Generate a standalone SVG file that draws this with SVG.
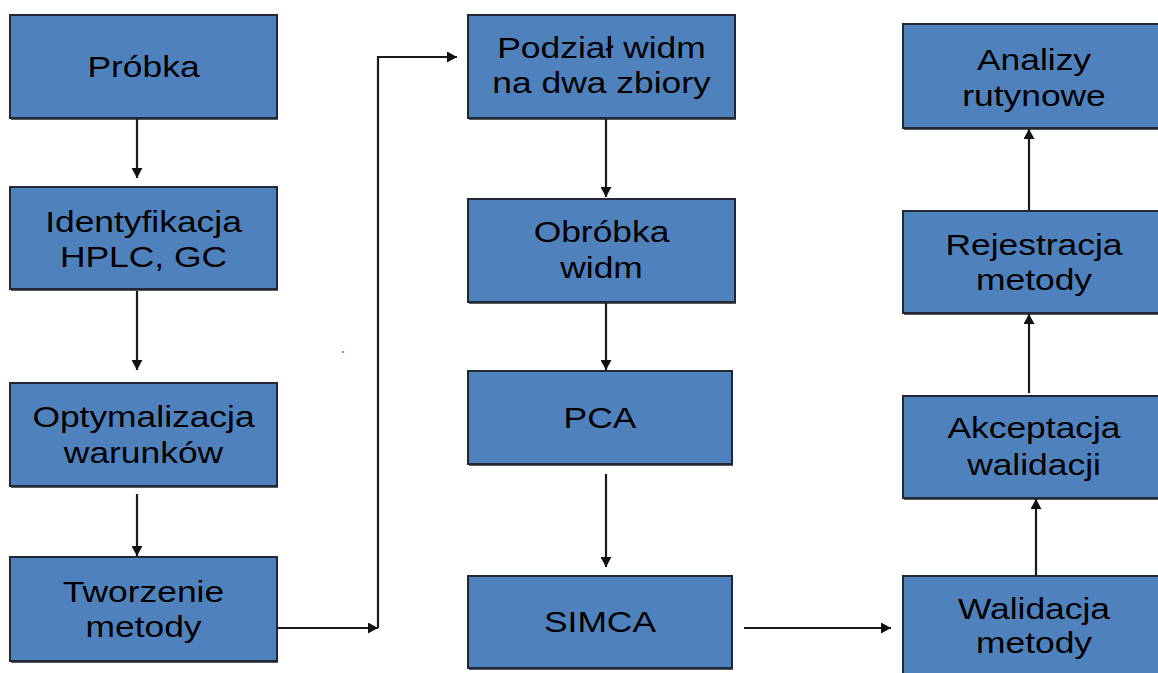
<svg xmlns="http://www.w3.org/2000/svg" width="1158" height="673" viewBox="0 0 1158 673">
<defs>
<style>
.box{fill:#4F81BD;stroke:#1E2836;stroke-width:2}
.sh{fill:#5A5A5A}
.t{font-family:"Liberation Sans",Arial,sans-serif;font-size:30px;fill:#000;text-anchor:middle}
.c{fill:none;stroke:#1A1A1A;stroke-width:2.2}
</style>
<marker id="ah" markerUnits="userSpaceOnUse" markerWidth="10" markerHeight="11" refX="10" refY="5.5" orient="auto" viewBox="0 0 10 11">
<path d="M0,0 L10,5.5 L0,11 z" fill="#111"/>
</marker>
</defs>
<rect width="1158" height="673" fill="#fff"/>
<rect x="342" y="351" width="2" height="2" fill="#6B95C8"/>

<g id="probka"><rect class="sh" x="11" y="17" width="267" height="103"/><rect class="box" x="10" y="15" width="267" height="103"/><text class="t" transform="translate(143.5,77) scale(1.18,1)">Próbka</text></g>
<g id="identyfikacja"><rect class="sh" x="11" y="189" width="267" height="102"/><rect class="box" x="10" y="187" width="267" height="102"/><text class="t" transform="translate(143.5,232) scale(1.18,1)">Identyfikacja</text><text class="t" transform="translate(143.5,267) scale(1.18,1)">HPLC, GC</text></g>
<g id="optymalizacja"><rect class="sh" x="11" y="385" width="267" height="103"/><rect class="box" x="10" y="383" width="267" height="103"/><text class="t" transform="translate(143.5,427) scale(1.18,1)">Optymalizacja</text><text class="t" transform="translate(143.5,463) scale(1.18,1)">warunków</text></g>
<g id="tworzenie"><rect class="sh" x="11" y="559" width="267" height="104"/><rect class="box" x="10" y="557" width="267" height="104"/><text class="t" transform="translate(143.5,602) scale(1.18,1)">Tworzenie</text><text class="t" transform="translate(143.5,637) scale(1.18,1)">metody</text></g>

<g id="podzial"><rect class="sh" x="469" y="17" width="267" height="103"/><rect class="box" x="468" y="15" width="267" height="103"/><text class="t" transform="translate(601.5,58) scale(1.18,1)">Podział widm</text><text class="t" transform="translate(601.5,93) scale(1.18,1)">na dwa zbiory</text></g>
<g id="obrobka"><rect class="sh" x="469" y="201" width="267" height="103"/><rect class="box" x="468" y="199" width="267" height="103"/><text class="t" transform="translate(601.5,242) scale(1.18,1)">Obróbka</text><text class="t" transform="translate(601.5,278) scale(1.18,1)">widm</text></g>
<g id="pca"><rect class="sh" x="469" y="373" width="264" height="93"/><rect class="box" x="468" y="371" width="264" height="93"/><text class="t" transform="translate(600,428) scale(1.18,1)">PCA</text></g>
<g id="simca"><rect class="sh" x="469" y="578" width="264" height="92"/><rect class="box" x="468" y="576" width="264" height="92"/><text class="t" transform="translate(600,632) scale(1.18,1)">SIMCA</text></g>

<g id="analizy"><rect class="sh" x="904" y="26" width="262" height="104"/><rect class="box" x="903" y="24" width="262" height="104"/><text class="t" transform="translate(1034,70) scale(1.18,1)">Analizy</text><text class="t" transform="translate(1034,106) scale(1.18,1)">rutynowe</text></g>
<g id="rejestracja"><rect class="sh" x="904" y="213" width="262" height="102"/><rect class="box" x="903" y="211" width="262" height="102"/><text class="t" transform="translate(1034,255) scale(1.18,1)">Rejestracja</text><text class="t" transform="translate(1034,290) scale(1.18,1)">metody</text></g>
<g id="akceptacja"><rect class="sh" x="904" y="398" width="262" height="102"/><rect class="box" x="903" y="396" width="262" height="102"/><text class="t" transform="translate(1034,438) scale(1.18,1)">Akceptacja</text><text class="t" transform="translate(1034,475) scale(1.18,1)">walidacji</text></g>
<g id="walidacja"><rect class="box" x="903" y="576" width="262" height="110"/><text class="t" transform="translate(1034,619) scale(1.18,1)">Walidacja</text><text class="t" transform="translate(1034,653) scale(1.18,1)">metody</text></g>

<g id="connectors">
<path class="c" d="M137,119 V178" marker-end="url(#ah)"/>
<path class="c" d="M137,291 V370" marker-end="url(#ah)"/>
<path class="c" d="M137,494 V556" marker-end="url(#ah)"/>
<path class="c" d="M278,628 H378" marker-end="url(#ah)"/>
<path class="c" d="M378,628 V57 H457" marker-end="url(#ah)"/>
<path class="c" d="M606,119 V197" marker-end="url(#ah)"/>
<path class="c" d="M606,303 V370" marker-end="url(#ah)"/>
<path class="c" d="M606,474 V567" marker-end="url(#ah)"/>
<path class="c" d="M744,628 H891" marker-end="url(#ah)"/>
<path class="c" d="M1036,575 V499" marker-end="url(#ah)"/>
<path class="c" d="M1029,393 V314" marker-end="url(#ah)"/>
<path class="c" d="M1029,210 V129" marker-end="url(#ah)"/>
</g>
</svg>
